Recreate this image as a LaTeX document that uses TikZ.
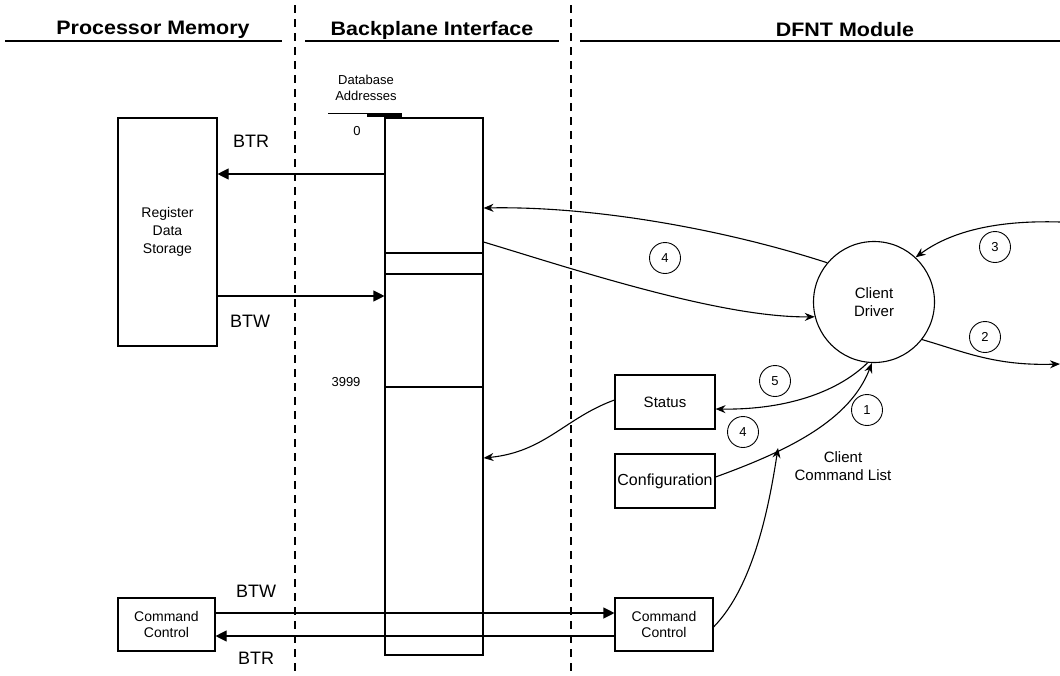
\documentclass[tikz,border=0pt]{standalone}
\usepackage{fontspec}
\setmainfont{Liberation Sans}
\usetikzlibrary{arrows.meta}
\begin{document}
\begin{tikzpicture}[x=1pt,y=-1pt,
  line width=1.1pt,
  hdr/.style={inner sep=0pt, font=\fontsize{19.5}{22}\selectfont\bfseries, xscale=1.1},
  lbl/.style={inner sep=0pt, font=\fontsize{15}{18}\selectfont, align=center},
  big/.style={inner sep=0pt, font=\fontsize{18}{20}\selectfont},
  small/.style={inner sep=0pt, font=\fontsize{13}{16}\selectfont, align=center},
  box/.style={draw, line width=1.1pt, inner sep=0pt, align=center, font=\fontsize{15}{16}\selectfont},
  num/.style={circle, draw, line width=0.9pt, minimum size=31pt, inner sep=0pt, font=\fontsize{13}{15}\selectfont},
  tip/.style={-{Stealth[length=10pt,width=8pt]}},
  tri/.style={-{Triangle[length=11pt,width=11pt]}},
  sep/.style={dashed, dash pattern=on 8pt off 6pt, line width=1.1pt}
]
\useasboundingbox (0,0) rectangle (1060,675);

% column headings
\node[hdr] (h1) at (153,30) {Processor Memory};
\node[hdr] (h2) at (432,30) {Backplane Interface};
\node[hdr] (h3) at (845,30) {DFNT Module};
\draw (5,41) -- (282,41);
\draw (305,41) -- (559,41);
\draw (580,41) -- (1060,41);

% column separators
\draw[sep] (295,5) -- (295,675);
\draw[sep] (571,5) -- (571,675);

% processor memory
\node[box, minimum width=99pt, minimum height=228pt, font=\fontsize{14}{18}\selectfont] (reg) at (167.5,232) {Register\\Data\\Storage};
\node[box, minimum width=97pt, minimum height=53pt, font=\fontsize{14}{16}\selectfont] (cc1) at (166.5,624.5) {Command\\Control};

% backplane database
\node[box, minimum width=98pt, minimum height=537pt] (db) at (434,386.5) {};
\draw (db.west |- 0,253) -- (db.east |- 0,253);
\draw (db.west |- 0,274) -- (db.east |- 0,274);
\draw (db.west |- 0,387) -- (db.east |- 0,387);
\node[small] (dbt) at (366,88) {Database\\Addresses};
\draw[line width=0.9pt] (328,113) -- (402,113);
\draw[line width=3pt] (367,115) -- (402,115);
\node[small] (a0) at (357,131) {0};
\node[small] (a3999) at (346,382) {3999};

% block transfers
\node[big] (btr1) at (251,141) {BTR};
\node[big] (btw1) at (250,321) {BTW};
\draw[tri] (db.west |- 0,174) -- (reg.east |- 0,174);
\draw[tri] (reg.east |- 0,296) -- (db.west |- 0,296);

% DFNT module
\node[circle, draw, line width=1.1pt, minimum size=121pt, inner sep=0pt, align=center, font=\fontsize{15}{18}\selectfont] (cd) at (874,302) {Client\\Driver};
\node[box, minimum width=100pt, minimum height=54pt] (st) at (665,402) {Status};
\node[box, minimum width=100pt, minimum height=54pt, font=\fontsize{16}{18}\selectfont] (cfg) at (665,481) {Configuration};
\node[box, minimum width=98pt, minimum height=53pt, font=\fontsize{14}{16}\selectfont] (cc2) at (664,624.5) {Command\\Control};
\node[lbl] (ccl) at (843,466) {Client\\Command List};

% numbered steps
\node[num] (n4a) at (665,258) {4};
\node[num] (n3) at (995,247) {3};
\node[num] (n2) at (985,337) {2};
\node[num] (n5) at (775,381) {5};
\node[num] (n4b) at (743,432) {4};
\node[num] (n1) at (867,410) {1};

% external ends
\coordinate (inR) at (1060,222);
\coordinate (outR) at (1060,364);
\coordinate (cl) at (778,448);

% data flow between driver and database
\draw[tip] (cd.140) .. controls (720,228) and (590,206) .. (db.east |- 0,208);
\draw[tip] (db.east |- 0,242) .. controls (570,268) and (720,318) .. (cd.194);
\draw[tip] (inR) .. controls (995,220) and (950,232) .. (cd.47);
\draw[tip] (cd.-38) .. controls (965,352) and (995,366) .. (outR);

% status and configuration
\draw[tip] (cd.-96) .. controls (840,390) and (790,410) .. (st.east |- 0,409);
\draw[tip] (cfg.east |- 0,477) .. controls (790,450) and (850,420) .. (cd.-92);
\draw[tip] (cc2.east |- 0,627) .. controls (755,585) and (770,500) .. (cl);
\draw[tip] (st.west |- 0,400) .. controls (565,418) and (545,452) .. (db.east |- 0,458);

% command control block transfers
\node[big] (btw2) at (256,591) {BTW};
\node[big] (btr2) at (256,658) {BTR};
\draw[tri] (cc1.east |- 0,613) -- (cc2.west |- 0,613);
\draw[tri] (cc2.west |- 0,636) -- (cc1.east |- 0,636);
\end{tikzpicture}
\end{document}
